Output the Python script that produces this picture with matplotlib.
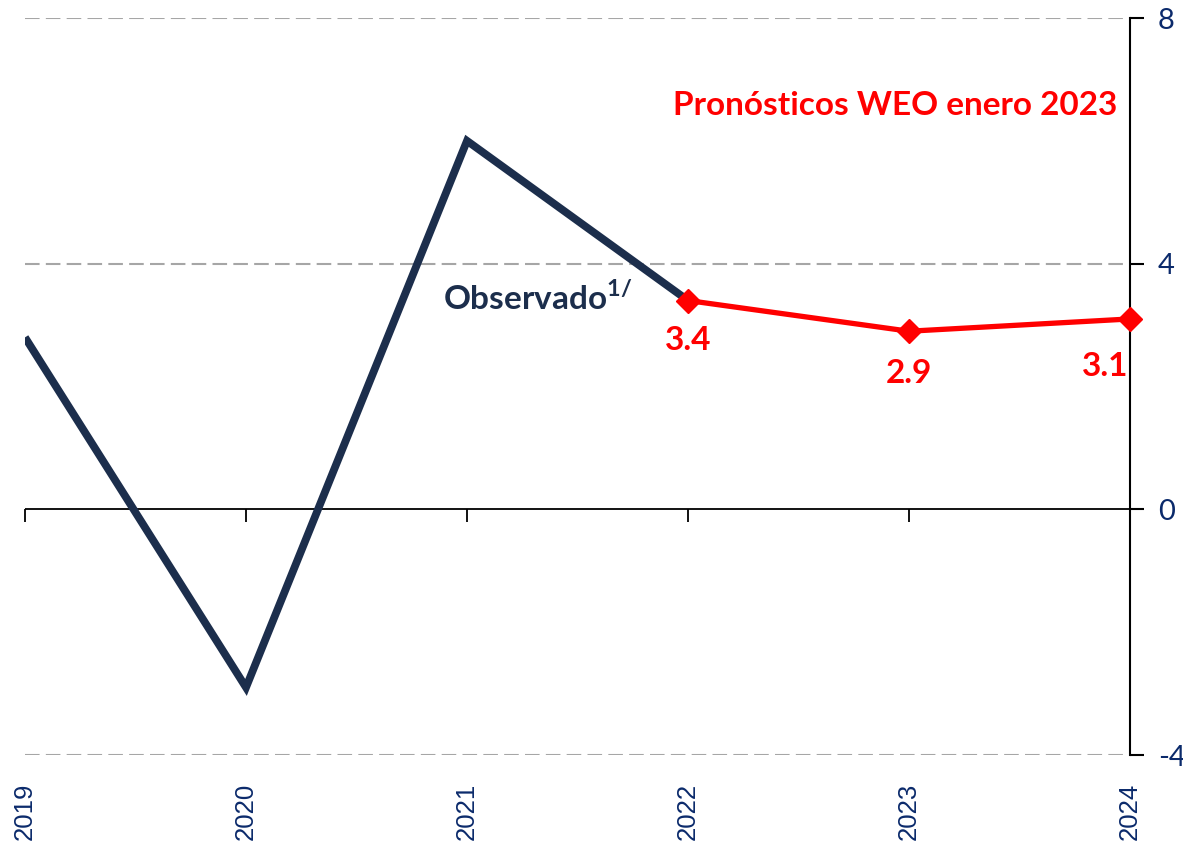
import matplotlib
matplotlib.use("Agg")
import matplotlib.pyplot as plt

plt.rcParams["axes.unicode_minus"] = False

# datos
years = [2019, 2020, 2021, 2022, 2023, 2024]
observado_years = [2019, 2020, 2021, 2022]
observado = [2.8, -2.9, 6.0, 3.4]
pronostico_years = [2022, 2023, 2024]
pronostico = [3.4, 2.9, 3.1]
pronostico_labels = ["3.4", "2.9", "3.1"]
yticks = [-4, 0, 4, 8]

navy = "#1c2e4c"
blue_txt = "#0b2a6b"
red = "#ff0000"

fig = plt.figure(figsize=(11.83, 8.46), dpi=100)
ax = fig.add_axes([25 / 1183, 1 - 755 / 846, 1105 / 1183, 737 / 846])

ax.set_xlim(2019, 2024)
ax.set_ylim(-4, 8)

# lineas de cuadricula discontinuas
for y in [8, 4, -4]:
    ax.axhline(y, color="#a6a6a6", lw=1.5, dashes=(7, 3), zorder=1)
ax.axhline(0, color="black", lw=1.3, zorder=1)

ax.plot(observado_years, observado, color=navy, lw=5.6, zorder=3,
        solid_joinstyle="miter", solid_capstyle="butt")
ax.plot(pronostico_years, pronostico, color=red, lw=3.8, marker="D",
        markersize=12, zorder=4, clip_on=False)

# etiquetas de valores (desplazamiento en pixeles)
offs = [(0, -40, "center"), (0, -42, "center"), (-2, -48, "right")]
for x, y, s, (dx, dy, ha) in zip(pronostico_years, pronostico, pronostico_labels, offs):
    ax.annotate(s, (x, y), xytext=(dx, dy), textcoords="offset pixels",
                ha=ha, va="center", color=red, fontsize=24,
                fontweight="bold", family="Lato")

ax.text(0.989, 0.881, "Pronósticos WEO enero 2023", transform=ax.transAxes,
        ha="right", va="center", color=red, fontsize=24, fontweight="bold",
        family="Lato")
ax.text(2020.89, 3.45, "Observado$^{\\mathregular{1/}}$", ha="left", va="center",
        color=navy, fontsize=24, fontweight="bold", family="Lato")

# ejes
for s in ["top", "left", "bottom"]:
    ax.spines[s].set_visible(False)
ax.spines["right"].set_linewidth(1.5)
ax.yaxis.tick_right()
ax.set_yticks(yticks)
ax.tick_params(axis="y", direction="out", length=10, width=1.5, pad=10,
               labelsize=21, labelcolor=blue_txt)
for lab in ax.get_yticklabels():
    lab.set_family("Lato")

ax.set_xticks(years)
ax.set_xticklabels([str(y) for y in years], rotation=90, family="Liberation Sans")
ax.tick_params(axis="x", length=0, pad=20, labelsize=18.5, labelcolor=blue_txt)

sec = ax.secondary_xaxis(1 / 3)
sec.set_xticks(years)
sec.set_xticklabels([])
sec.spines["bottom"].set_visible(False)
sec.tick_params(axis="x", direction="out", length=9, width=1.3, color="black")

fig.savefig("out.png", dpi=100)
